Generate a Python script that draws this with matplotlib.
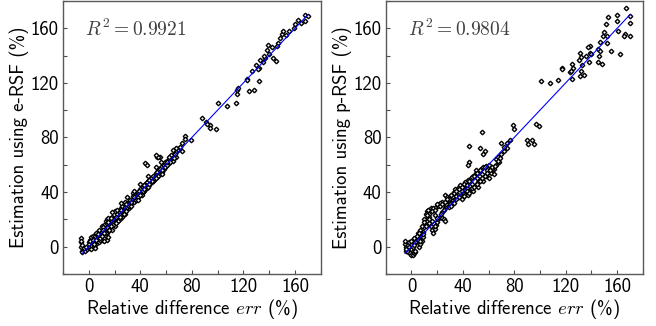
import numpy as np
import matplotlib
matplotlib.use("Agg")
import matplotlib.pyplot as plt

plt.rcParams['font.family'] = ['cmss10', 'DejaVu Sans']
plt.rcParams['mathtext.fontset'] = 'cm'
plt.rcParams['axes.unicode_minus'] = False

# e-RSF panel: (relative difference, estimation)
x_e = [-6, -6, -6, -5, -5, -4, -3, -2, -1, 0, 1, 2, 3, 4, 5, 0, 1, 2, 3, 4, 5, 6, 7, 8, 3, 5, 6, 7, 8, 9,
       10, 10, 11, 12, 13, 14, 15, 12, 13, 14, 15, 16, 17, 18, 18, 19, 20, 21, 22, 23, 24, 25, 26, 26, 27, 28, 29, 30, 31, 32,
       33, 34, 35, 36, 37, 38, 39, 40, 41, 42, 43, 44, 45, 46, 47, 48, 49, 50, 51, 52, 53, 54, 55, 56, 57, 58, 59, 60, 61, 62,
       63, 64, 65, 66, 67, 68, 70, 72, 14, 16, 20, 22, 24, 28, 30, 32, 36, 38, 42, 44, 46, 50, 54, 10, 8, 6, 20, 22, 28, 34,
       40, 46, 52, 56, 44, 45, 53, 55, 25, 30, 35, 18, 11, 12, 2, 4, 6, 9, 16, 19, 27, 31, 37, 41, 48, 58, 62, 65, 69, 71,
       -6, -5, -4, -2, 0, 1, 3, 4, 6, 7, 9, 10, 11, 13, 14, 16, 17, 19, 21, 23, 24, 25, 27, 29, 31, 33, 34, 35, 37, 39,
       40, 42, 43, 45, 47, 49, 51, 53, 55, 57, 59, 61, 63, 66, 68, 15, 17, 12, 21, 24, 29, 33, 38, 43, 47, 52, 57, 61, 64, 67,
       75, 79, 75, 72, 68, 65, 62, 54, 52, 88, 91, 94, 92, 94, 99, 100, 107, 114, 115, 115, 123, 128, 116, 123, 124, 132, 132, 127, 130, 133,
       135, 137, 131, 139, 138, 143, 145, 142, 147, 148, 150, 151, 155, 159, 168, 168, 162, 165, 170, 160, 140, 136, 146, 153]
y_e = [6, 3, 0, -3, -4, -2, -3, -1, -2, -1, 0, -2, 1, 0, 3, 3, 5, 7, 8, 6, 8, 9, 6, 8, 3, -1, 2, 4, 3, 8,
       11, 5, 9, 12, 8, 5, 7, 16, 19, 20, 21, 14, 18, 22, 12, 17, 20, 18, 24, 21, 25, 28, 22, 30, 26, 29, 27, 32, 28, 34,
       31, 35, 33, 38, 36, 40, 37, 42, 39, 44, 41, 46, 43, 48, 45, 50, 47, 52, 49, 54, 51, 56, 53, 58, 55, 60, 62, 59, 63, 61,
       65, 66, 63, 68, 70, 66, 72, 70, 10, 17, 15, 19, 20, 24, 29, 30, 35, 36, 40, 44, 44, 48, 52, 15, 12, 10, 26, 27, 33, 39,
       46, 52, 58, 62, 61, 60, 66, 66, 32, 36, 41, 25, 14, 4, 1, 2, 5, 5, 12, 16, 24, 30, 34, 38, 47, 57, 64, 67, 71, 73,
       4, 1, -1, 0, 2, 4, 5, 2, 5, 9, 6, 8, 12, 10, 14, 12, 15, 20, 22, 19, 23, 27, 24, 31, 30, 30, 37, 36, 34, 41,
       38, 41, 45, 47, 46, 48, 50, 55, 57, 56, 58, 60, 62, 65, 69, 18, 21, 10, 17, 22, 26, 33, 34, 42, 49, 50, 53, 62, 67, 68,
       81, 78, 79, 76, 72, 71, 66, 66, 67, 94, 91, 89, 90, 87, 86, 105, 103, 105, 115, 112, 123, 115, 116, 122, 114, 121, 131, 129, 133, 137,
       135, 138, 130, 148, 144, 138, 136, 146, 149, 153, 156, 158, 158, 160, 170, 165, 166, 164, 169, 163, 141, 140, 147, 155]

# p-RSF panel
x_p = [-5, -5, -4, -4, -3, -3, -2, -1, 0, 1, 2, 3, 0, 1, 2, 3, 4, 5, 6, 7, 8, 9, 5, 6, 7, 8, 9, 10, 11, 12,
       13, 12, 13, 15, 17, 19, 21, 14, 15, 16, 17, 18, 19, 20, 21, 22, 23, 24, 25, 26, 24, 26, 27, 28, 26, 30, 32, 34, 33, 36,
       38, 40, 42, 44, 46, 48, 50, 52, 54, 56, 58, 60, 62, 64, 66, 68, 36, 38, 40, 42, 44, 46, 48, 50, 52, 54, 56, 58, 34, 30,
       28, 24, 22, 20, 10, 8, 7, 5, 30, 32, 36, 40, 44, 48, 52, 56, 60, 64, 62, 66, 68, 70, 72, 74, 4, 3, 2, 6, 8, 11,
       14, 18, 35, 39, 43, 47, 51, 55, 59, 63, 45, 45, 44, 44, 55, 53, 57, 56, 50, 52, 60, 57, 67, 69, 70, 72, 74, 77, 79, 80,
       -4, -2, 0, 2, 4, 6, 3, 5, 7, 9, 10, 11, 14, 16, 18, 20, 23, 25, 27, 29, 31, 33, 35, 37, 39, 41, 43, 45, 47, 49,
       51, 53, 55, 57, 59, 61, 63, 65, 67, 29, 31, 33, 35, 37, 39, 41, 43, 45, 47, 49, 51, 53, 16, 18, 12, 14, 22, 24, 26, 28,
       90, 91, 94, 95, 97, 99, 101, 108, 114, 117, 117, 123, 125, 126, 125, 124, 131, 132, 132, 134, 131, 133, 130, 136, 139, 139, 138, 137, 140, 145,
       146, 145, 147, 148, 147, 149, 152, 152, 151, 153, 155, 150, 160, 160, 161, 162, 166, 167, 170, 170, 170, 165]
y_p = [2, 4, 0, -3, 1, -4, 3, -5, -6, -6, -5, -4, -2, 0, 2, 5, 7, 8, 7, 9, 8, 7, 3, 0, 2, 4, 11, 14, 17, 19,
       21, 26, 27, 28, 28, 29, 30, 17, 15, 12, 10, 13, 16, 18, 20, 22, 22, 21, 20, 19, 25, 28, 30, 32, 38, 33, 34, 35, 40, 38,
       37, 39, 38, 40, 42, 44, 45, 47, 49, 51, 52, 55, 54, 57, 60, 62, 43, 45, 44, 47, 49, 50, 52, 54, 55, 57, 58, 59, 42, 37,
       36, 33, 32, 31, 20, 15, 12, 10, 31, 32, 36, 36, 38, 41, 44, 48, 50, 53, 58, 64, 66, 68, 70, 72, 6, 3, 1, 5, 9, 15,
       24, 23, 35, 41, 43, 46, 50, 53, 56, 57, 74, 62, 60, 41, 84, 72, 70, 68, 56, 54, 60, 58, 66, 65, 76, 73, 76, 78, 89, 86,
       -2, 0, 4, 6, 8, 10, -3, 5, 4, 9, 18, 24, 22, 19, 15, 21, 24, 27, 31, 29, 30, 32, 37, 36, 35, 37, 41, 39, 43, 44,
       46, 48, 50, 52, 54, 56, 58, 59, 63, 35, 38, 39, 41, 42, 44, 46, 45, 48, 51, 52, 54, 56, 26, 27, 23, 20, 30, 31, 33, 35,
       78, 75, 78, 75, 90, 88, 121, 120, 122, 131, 130, 128, 134, 131, 123, 129, 142, 139, 129, 126, 125, 133, 137, 140, 147, 142, 135, 146, 141, 145,
       140, 135, 143, 134, 150, 154, 154, 149, 163, 168, 143, 157, 170, 165, 158, 141, 156, 175, 169, 164, 154, 154]

panels = [(x_e, y_e, "Estimation using e-RSF (%)", r"$R^2 = 0.9921$"),
          (x_p, y_p, "Estimation using p-RSF (%)", r"$R^2 = 0.9804$")]
positions = [[0.096, 0.16, 0.393, 0.837], [0.588, 0.16, 0.392, 0.837]]

fig = plt.figure(figsize=(6.56, 3.26), dpi=100)
for (xs, ys, ylab, r2), pos in zip(panels, positions):
    ax = fig.add_axes(pos)
    ax.plot(xs, ys, "D", ms=2.3, mfc="white", mec="black", mew=1.0, zorder=2)
    ax.plot([-5, 170], [-5, 170], color="blue", lw=0.8, zorder=3)
    ax.set_xlim(-20, 180)
    ax.set_ylim(-20, 180)
    ax.set_xticks([0, 40, 80, 120, 160])
    ax.set_yticks([0, 40, 80, 120, 160])
    ax.set_xticks(np.arange(-20, 181, 20), minor=True)
    ax.set_yticks(np.arange(-20, 181, 20), minor=True)
    ax.tick_params(which="both", direction="in", length=3, width=0.8,
                   color="0.3", labelsize=13.5, top=False, right=False, pad=3)
    for s in ax.spines.values():
        s.set_color("0.35")
        s.set_linewidth(1.0)
    ax.set_xlabel(r"Relative difference $err$ (%)", fontsize=13.5, labelpad=1)
    ax.set_ylabel(ylab, fontsize=13.5, labelpad=1)
    ax.text(0.085, 0.895, r2, transform=ax.transAxes, fontsize=14,
            color="0.25", va="center")

fig.savefig("out.png", dpi=100)
